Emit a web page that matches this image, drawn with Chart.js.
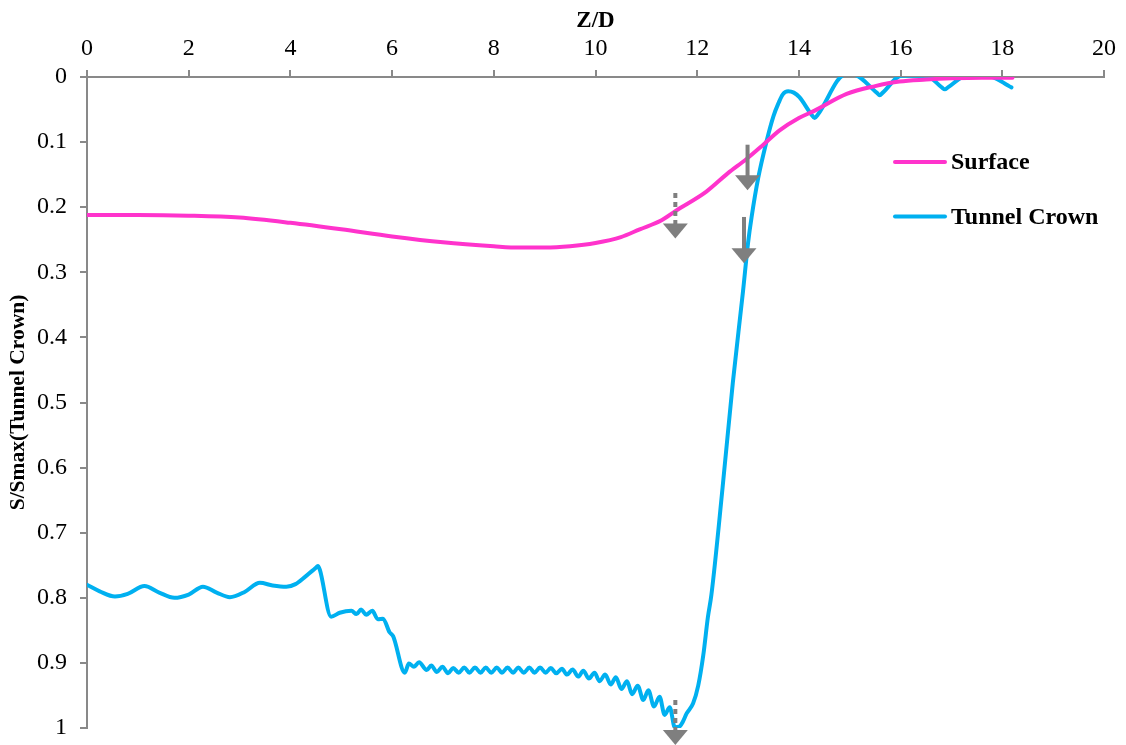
<!DOCTYPE html>
<html>
<head>
<meta charset="utf-8">
<script src="https://cdn.jsdelivr.net/npm/chart.js@4.4.1/dist/chart.umd.min.js"></script>
<style>
  html, body { margin: 0; padding: 0; background: #ffffff; }
  #wrap { width: 1126px; height: 745px; }
</style>
</head>
<body>
<div id="wrap"><canvas id="chart" width="1126" height="745"></canvas></div>
<script>
// Normalised settlement S/Smax along the tunnel axis Z/D
const surfaceX = [0, 1, 2, 3, 4, 5, 6, 7, 8, 8.5, 9, 9.5, 10, 10.5, 10.87, 11.3, 11.57, 12.18, 12.6, 12.97, 13.3, 13.62, 14.0, 14.3, 14.94, 15.5, 15.98, 16.5, 17.0, 17.6, 18.2];
const surfaceY = [0.212, 0.212, 0.213, 0.216, 0.224, 0.234, 0.245, 0.254, 0.260, 0.262, 0.262, 0.260, 0.255, 0.246, 0.234, 0.220, 0.206, 0.176, 0.148, 0.126, 0.104, 0.082, 0.063, 0.052, 0.026, 0.014, 0.007, 0.004, 0.002, 0.001, 0.001];

const crownX = [0, 0.25, 0.55, 0.8, 1.13, 1.42, 1.72, 2.0, 2.28, 2.55, 2.81, 3.1, 3.40, 3.65, 3.92, 4.1, 4.3, 4.50, 4.54, 4.58,
  4.80, 4.97, 5.20, 5.30, 5.39, 5.49, 5.61, 5.72, 5.82, 5.95, 6.02, 6.25, 6.33, 6.43, 6.53, 6.68, 6.77, 6.88, 6.99,
  7.10, 7.20, 7.31, 7.42, 7.52, 7.63, 7.74, 7.84, 7.95, 8.06, 8.16, 8.27, 8.38, 8.48, 8.59, 8.70, 8.80, 8.91,
  9.02, 9.12, 9.23, 9.34, 9.44, 9.55, 9.66, 9.76, 9.87, 9.98, 10.08, 10.19, 10.30, 10.40, 10.51, 10.62, 10.72,
  10.83, 10.94, 11.04, 11.15, 11.26, 11.36, 11.46, 11.56, 11.65, 11.72, 11.79, 11.92, 12.02, 12.12, 12.21, 12.28,
  12.5, 12.7, 12.9, 13.0, 13.07, 13.2, 13.36, 13.5, 13.6, 13.68, 13.79, 13.9, 14.01, 14.25, 14.31, 14.37, 14.92, 15.05,
  15.53, 15.59, 15.65, 16.02, 16.5, 16.81, 16.87, 16.93, 17.3, 17.7, 18.18];
const crownY = [0.780, 0.790, 0.798, 0.794, 0.782, 0.792, 0.800, 0.795, 0.783, 0.792, 0.799, 0.791, 0.777, 0.781, 0.783, 0.779, 0.767, 0.754, 0.751, 0.757,
  0.829, 0.823, 0.820, 0.825, 0.818, 0.826, 0.820, 0.833, 0.832, 0.853, 0.859, 0.915, 0.901, 0.906, 0.899, 0.911, 0.904, 0.914, 0.906,
  0.916, 0.908, 0.915, 0.907, 0.915, 0.907, 0.915, 0.907, 0.915, 0.907, 0.915, 0.907, 0.915, 0.907, 0.915, 0.907, 0.915, 0.907,
  0.915, 0.908, 0.916, 0.909, 0.918, 0.910, 0.921, 0.912, 0.924, 0.915, 0.928, 0.918, 0.933, 0.922, 0.940, 0.928, 0.948,
  0.935, 0.957, 0.942, 0.967, 0.952, 0.980, 0.968, 0.999, 0.998, 0.990, 0.978, 0.962, 0.935, 0.888, 0.830, 0.795,
  0.630, 0.470, 0.330, 0.255, 0.215, 0.155, 0.100, 0.060, 0.040, 0.027, 0.022, 0.024, 0.031, 0.058, 0.063, 0.058, -0.004, -0.004,
  0.024, 0.028, 0.024, -0.002, -0.002, 0.016, 0.019, 0.016, -0.002, -0.002, 0.016];

// Marker arrows (x position, tail and tip in S/Smax units, dotted shaft or not)
const arrowX    = [11.57, 12.99, 12.92, 11.57];
const arrowTail = [0.178, 0.104, 0.215, 0.957];
const arrowTip  = [0.248, 0.174, 0.286, 1.026];
const arrowDots = [true, false, false, true];

const xTicks = { min: 0, max: 20, step: 2 };
const yTicks = { min: 0, max: 1, step: 0.1 };

const SERIF = "'Liberation Serif', 'Times New Roman', serif";
const AXIS_GREY = '#898989';
const ARROW_GREY = '#7f7f7f';
const PINK = '#ff33cc';
const CYAN = '#00b0f0';

const pts = (xs, ys) => xs.map((x, i) => ({ x: x, y: ys[i] }));

const arrowPlugin = {
  id: 'arrows',
  afterDatasetsDraw(chart) {
    const ctx = chart.ctx;
    const xs = chart.scales.x, ys = chart.scales.y;
    const headW = 25, headH = 15;
    ctx.save();
    for (let i = 0; i < arrowX.length; i++) {
      const px = xs.getPixelForValue(arrowX[i]);
      const pTail = ys.getPixelForValue(arrowTail[i]);
      const pTip = ys.getPixelForValue(arrowTip[i]);
      const pHead = pTip - headH;
      ctx.strokeStyle = ARROW_GREY;
      ctx.fillStyle = ARROW_GREY;
      ctx.lineWidth = 4;
      ctx.lineCap = 'butt';
      ctx.setLineDash(arrowDots[i] ? [5, 4] : []);
      ctx.beginPath();
      ctx.moveTo(px, pTail);
      ctx.lineTo(px, pHead + 1);
      ctx.stroke();
      ctx.setLineDash([]);
      ctx.beginPath();
      ctx.moveTo(px - headW / 2, pHead);
      ctx.lineTo(px + headW / 2, pHead);
      ctx.lineTo(px, pTip);
      ctx.closePath();
      ctx.fill();
    }
    ctx.restore();
  }
};

const legendPlugin = {
  id: 'sideLegend',
  afterDraw(chart) {
    const ctx = chart.ctx;
    const items = chart.data.datasets;
    ctx.save();
    ctx.font = 'bold 24px ' + SERIF;
    ctx.textBaseline = 'middle';
    ctx.textAlign = 'left';
    items.forEach((ds, i) => {
      const y = 162 + i * 54.5;
      ctx.strokeStyle = ds.borderColor;
      ctx.lineWidth = 4;
      ctx.lineCap = 'round';
      ctx.beginPath();
      ctx.moveTo(895, y);
      ctx.lineTo(945, y);
      ctx.stroke();
      ctx.fillStyle = '#000000';
      ctx.fillText(ds.label, 951, y + 1);
    });
    ctx.restore();
  }
};

new Chart(document.getElementById('chart'), {
  type: 'line',
  data: {
    datasets: [
      {
        label: 'Surface',
        data: pts(surfaceX, surfaceY),
        borderColor: PINK,
        backgroundColor: PINK,
        borderWidth: 4,
        pointRadius: 0,
        cubicInterpolationMode: 'monotone',
        borderCapStyle: 'round',
        borderJoinStyle: 'round'
      },
      {
        label: 'Tunnel Crown',
        data: pts(crownX, crownY),
        borderColor: CYAN,
        backgroundColor: CYAN,
        borderWidth: 4,
        pointRadius: 0,
        cubicInterpolationMode: 'monotone',
        borderCapStyle: 'round',
        borderJoinStyle: 'round'
      }
    ]
  },
  options: {
    responsive: false,
    animation: false,
    events: [],
    layout: { padding: { left: 0, top: 0, right: 22, bottom: 17 } },
    plugins: {
      legend: { display: false },
      tooltip: { enabled: false }
    },
    scales: {
      x: {
        type: 'linear',
        position: 'top',
        min: xTicks.min,
        max: xTicks.max,
        afterFit(scale) {
          scale.height = 77;
          scale.paddingLeft = 0;
          scale.paddingRight = 0;
        },
        ticks: {
          stepSize: xTicks.step,
          color: '#000000',
          padding: 7,
          font: { family: SERIF, size: 24 }
        },
        grid: {
          drawOnChartArea: false,
          drawTicks: true,
          tickLength: 7,
          color: AXIS_GREY,
          lineWidth: 2
        },
        border: { display: true, color: AXIS_GREY, width: 2 },
        title: {
          display: true,
          text: 'Z/D',
          color: '#000000',
          padding: { top: 7, bottom: 0 },
          font: { family: SERIF, size: 23, weight: 'bold' }
        }
      },
      y: {
        type: 'linear',
        reverse: true,
        min: yTicks.min,
        max: yTicks.max,
        afterFit(scale) {
          scale.width = 87;
          scale.paddingTop = 0;
          scale.paddingBottom = 0;
        },
        ticks: {
          stepSize: yTicks.step,
          color: '#000000',
          padding: 13,
          font: { family: SERIF, size: 24 },
          callback: (v) => String(Number(v.toFixed(1)))
        },
        grid: {
          drawOnChartArea: false,
          drawTicks: true,
          tickLength: 7,
          color: AXIS_GREY,
          lineWidth: 2
        },
        border: { display: true, color: AXIS_GREY, width: 2 },
        title: {
          display: true,
          text: 'S/Smax(Tunnel Crown)',
          color: '#000000',
          padding: { top: 6, bottom: 0 },
          font: { family: SERIF, size: 21.5, weight: 'bold' }
        }
      }
    }
  },
  plugins: [arrowPlugin, legendPlugin]
});
</script>
</body>
</html>
